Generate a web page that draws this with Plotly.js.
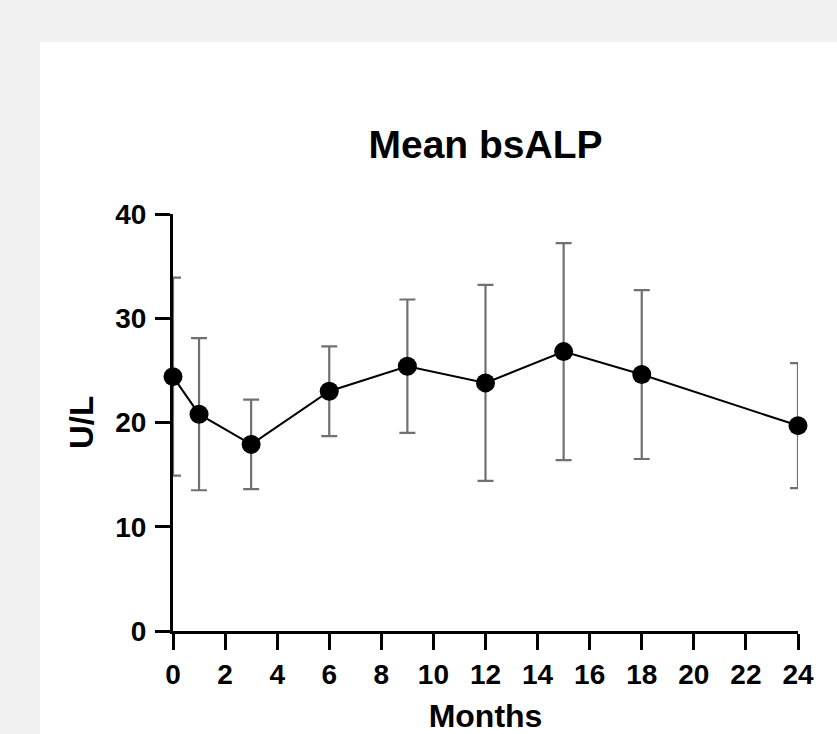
<!DOCTYPE html>
<html>
<head>
<meta charset="utf-8">
<script src="https://cdn.plot.ly/plotly-3.0.1.min.js"></script>
<style>
html, body { margin:0; padding:0; background:#f1f1f1; width:837px; height:734px; overflow:hidden; }
#chart { position:absolute; left:40px; top:42px; width:797px; height:692px; background:#fff; }
</style>
</head>
<body>
<div id="chart"></div>
<script>
const months = [0, 1, 3, 6, 9, 12, 15, 18, 24];
const meanALP = [24.4, 20.8, 17.9, 23.0, 25.4, 23.8, 26.8, 24.6, 19.7];
const errPlus = [9.5, 7.3, 4.3, 4.3, 6.4, 9.4, 10.4, 8.1, 6.0];
const errMinus = [9.5, 7.3, 4.3, 4.3, 6.4, 9.4, 10.4, 8.1, 6.0];
const xTicks = [0, 2, 4, 6, 8, 10, 12, 14, 16, 18, 20, 22, 24];
const yTicks = [0, 10, 20, 30, 40];

const FONT = 'Liberation Sans, Arial, sans-serif';

const trace = {
  x: months,
  y: meanALP,
  type: 'scatter',
  mode: 'lines+markers',
  line: { color: '#000', width: 2 },
  marker: { color: '#000', size: 19 },
  error_y: { type: 'data', symmetric: false, array: errPlus, arrayminus: errMinus,
             color: '#707070', thickness: 2.2, width: 8 },
  cliponaxis: false,
  hoverinfo: 'x+y'
};

const layout = {
  width: 797, height: 692,
  margin: { l: 133, r: 39, t: 172, b: 103 },
  paper_bgcolor: '#fff', plot_bgcolor: '#fff',
  showlegend: false,
  font: { family: FONT, color: '#000' },
  title: { text: '<b>Mean bsALP</b>', font: { family: FONT, size: 39, color: '#000' },
           x: 0.5, xanchor: 'center', xref: 'paper', y: 1 - 102 / 692, yanchor: 'middle', yref: 'container' },
  xaxis: {
    range: [0, 24], tickvals: xTicks, ticktext: xTicks.map(v => '<b>' + v + '</b>'),
    showgrid: false, zeroline: false, showline: true, linecolor: '#000', linewidth: 3,
    ticks: 'outside', ticklen: 16, tickwidth: 3, tickcolor: '#000',
    tickfont: { family: FONT, size: 28, color: '#000' },
    ticklabelstandoff: 0,
    title: { text: '<b>Months</b>', font: { family: FONT, size: 32, color: '#000' }, standoff: 18 },
    automargin: false
  },
  yaxis: {
    range: [0, 40], tickvals: yTicks, ticktext: yTicks.map(v => '<b>' + v + '</b>'),
    showgrid: false, zeroline: false, showline: true, linecolor: '#000', linewidth: 3,
    ticks: 'outside', ticklen: 15, tickwidth: 3, tickcolor: '#000',
    tickfont: { family: FONT, size: 28, color: '#000' },
    ticklabelstandoff: 3,
    title: { text: '<b>U/L</b>', font: { family: FONT, size: 33, color: '#000' }, standoff: 12 },
    automargin: false
  }
};

Plotly.newPlot('chart', [trace], layout, { displayModeBar: false, staticPlot: true });
</script>
</body>
</html>
